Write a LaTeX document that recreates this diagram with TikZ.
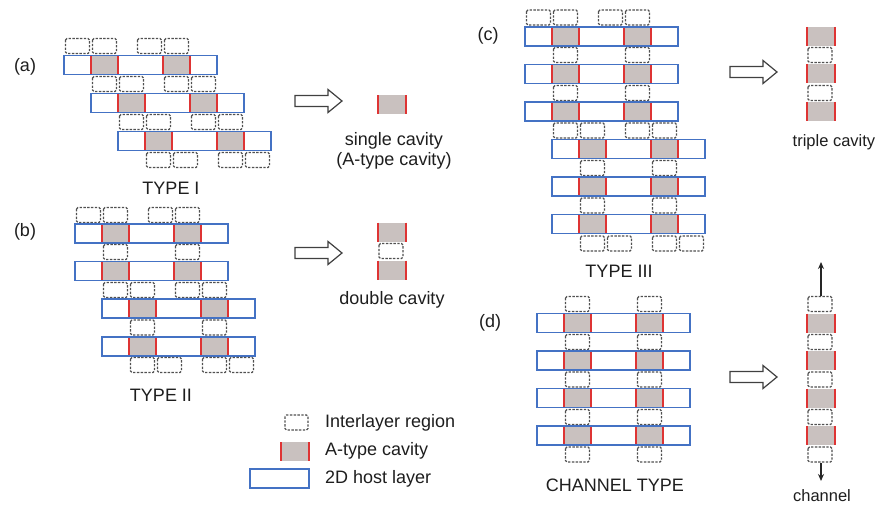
\documentclass[tikz,border=0pt]{standalone}
\usepackage{fontspec}
\setmainfont{Liberation Sans}
\definecolor{cavfill}{RGB}{201,193,191}
\definecolor{cavred}{RGB}{222,52,52}
\definecolor{hostblue}{RGB}{68,114,196}
\definecolor{boxgray}{RGB}{80,80,80}
\definecolor{txt}{RGB}{30,30,30}
\tikzset{
  hostline/.style={draw=hostblue,line width=1.4pt},
  cavline/.style={draw=cavred,line width=1.5pt},
  ilbox/.style={draw=boxgray,line width=1.1pt,dash pattern=on 2.4pt off 1.4pt,rounded corners=1.5pt},
  hollow/.style={draw=black!75,line width=1.2pt,fill=white,line join=miter},
  lbl/.style={inner sep=0pt,text=txt,font=\fontsize{18}{21}\selectfont},
  slbl/.style={inner sep=0pt,text=txt,font=\fontsize{16.5}{20}\selectfont},
  tiparrow/.style={draw=black!85,line width=1.3pt,-{Stealth[length=7pt,width=6pt]}}
}
\usetikzlibrary{arrows.meta}
% host layer: left x, center y
\newcommand{\hlayer}[2]{%
  \fill[white] (#1,#2-9.5) rectangle ++(153,19);
  \fill[cavfill] (#1+27,#2-9.5) rectangle ++(27,19);
  \fill[cavfill] (#1+99,#2-9.5) rectangle ++(27,19);
  \draw[cavline] (#1+27,#2-9.5) -- ++(0,19) (#1+54,#2-9.5) -- ++(0,19);
  \draw[cavline] (#1+99,#2-9.5) -- ++(0,19) (#1+126,#2-9.5) -- ++(0,19);
  \draw[hostline] (#1,#2-9.5) rectangle ++(153,19);
}
% interlayer boxes at cavity cells of a layer with left x = #1, center y = #2
\newcommand{\ilpair}[2]{%
  \draw[ilbox] (#1+28.5,#2-7.5) rectangle ++(24,15);
  \draw[ilbox] (#1+100.5,#2-7.5) rectangle ++(24,15);
}
\newcommand{\ilone}[2]{%
  \draw[ilbox] (#1+2,#2-7.5) rectangle ++(24,15);
}
% single cavity: left x, center y
\newcommand{\cavity}[2]{%
  \fill[cavfill] (#1,#2-9.5) rectangle ++(28,19);
  \draw[cavline] (#1,#2-9.5) -- ++(0,19) (#1+28,#2-9.5) -- ++(0,19);
}
% hollow arrow: left x, center y
\newcommand{\harrow}[2]{%
  \draw[hollow] (#1,#2-5.5) -- (#1+33,#2-5.5) -- (#1+33,#2-11.5) -- (#1+47,#2) -- (#1+33,#2+11.5) -- (#1+33,#2+5.5) -- (#1,#2+5.5) -- cycle;
}
\begin{document}
\begin{tikzpicture}[x=1pt,y=-1pt]
\useasboundingbox (0,0) rectangle (878,516);
\fill[white] (0,0) rectangle (878,516);

% ---------- (a) TYPE I ----------
\ilpair{37}{46}\ilpair{64}{46}
\hlayer{64}{65}
\ilpair{64}{84}\ilpair{91}{84}
\hlayer{91}{103}
\ilpair{91}{122}\ilpair{118}{122}
\hlayer{118}{141}
\ilpair{118}{160}\ilpair{145}{160}
\node[lbl] (la) at (25,67) {(a)};
\node[lbl] (t1) at (171,188) {TYPE I};

% ---------- (b) TYPE II ----------
\ilpair{48}{215}\ilpair{75}{215}
\hlayer{75}{233.5}
\ilpair{75}{252}
\hlayer{75}{271}
\ilpair{75}{290}\ilpair{102}{290}
\hlayer{102}{308.5}
\ilpair{102}{327.5}
\hlayer{102}{346.5}
\ilpair{102}{365}\ilpair{129}{365}
\node[lbl] (lb) at (25,232) {(b)};
\node[lbl] (t2) at (161,395) {TYPE II};

% ---------- (c) TYPE III ----------
\ilpair{498}{17.5}\ilpair{525}{17.5}
\hlayer{525}{36.5}
\ilpair{525}{55}
\hlayer{525}{74}
\ilpair{525}{93}
\hlayer{525}{111.5}
\ilpair{525}{130.5}\ilpair{552}{130.5}
\hlayer{552}{149}
\ilpair{552}{168}
\hlayer{552}{186.5}
\ilpair{552}{205.5}
\hlayer{552}{224}
\ilpair{552}{243.5}\ilpair{579}{243.5}
\node[lbl] (lc) at (488,36) {(c)};
\node[lbl] (t3) at (619,271) {TYPE III};

% ---------- (d) CHANNEL TYPE ----------
\ilpair{537}{304}
\hlayer{537}{323}
\ilpair{537}{342}
\hlayer{537}{360.5}
\ilpair{537}{379.5}
\hlayer{537}{398}
\ilpair{537}{417}
\hlayer{537}{435.5}
\ilpair{537}{454.5}
\node[lbl] (ld) at (490,323) {(d)};
\node[lbl] (t4) at (615,485.5) {CHANNEL TYPE};

% ---------- results ----------
\harrow{295}{101}
\cavity{378}{105}
\node[lbl] (r1) at (394,141) {single cavity};
\node[lbl] (r1b) at (394,161) {(A-type cavity)};

\harrow{295}{253}
\cavity{378}{232}
\ilone{377}{251}
\cavity{378}{270}
\node[lbl] (r2) at (392,300) {double cavity};

\harrow{730}{72}
\cavity{807}{36.5}
\ilone{806}{55}
\cavity{807}{74}
\ilone{806}{93}
\cavity{807}{111.5}
\node[slbl] (r3) at (834,142) {triple cavity};

\harrow{730}{377}
\ilone{806}{304}
\cavity{807}{323}
\ilone{806}{342}
\cavity{807}{360.5}
\ilone{806}{379.5}
\cavity{807}{398}
\ilone{806}{417}
\cavity{807}{435.5}
\ilone{806}{454.5}
\coordinate (chtop) at (821,296);
\coordinate (chup) at (821,262);
\coordinate (chbot) at (821,463);
\coordinate (chdown) at (821,481);
\draw[tiparrow] (chtop) -- (chup);
\draw[tiparrow] (chbot) -- (chdown);
\node[slbl] (r4) at (822,496) {channel};

% ---------- legend ----------
\draw[ilbox] (285,415) rectangle (308,430);
\cavity{281}{451.5}
\draw[hostline] (250,469) rectangle (309,488);
\node[lbl,anchor=west] (g1) at (325,423) {Interlayer region};
\node[lbl,anchor=west] (g2) at (325,451) {A-type cavity};
\node[lbl,anchor=west] (g3) at (325,479) {2D host layer};
\end{tikzpicture}
\end{document}
